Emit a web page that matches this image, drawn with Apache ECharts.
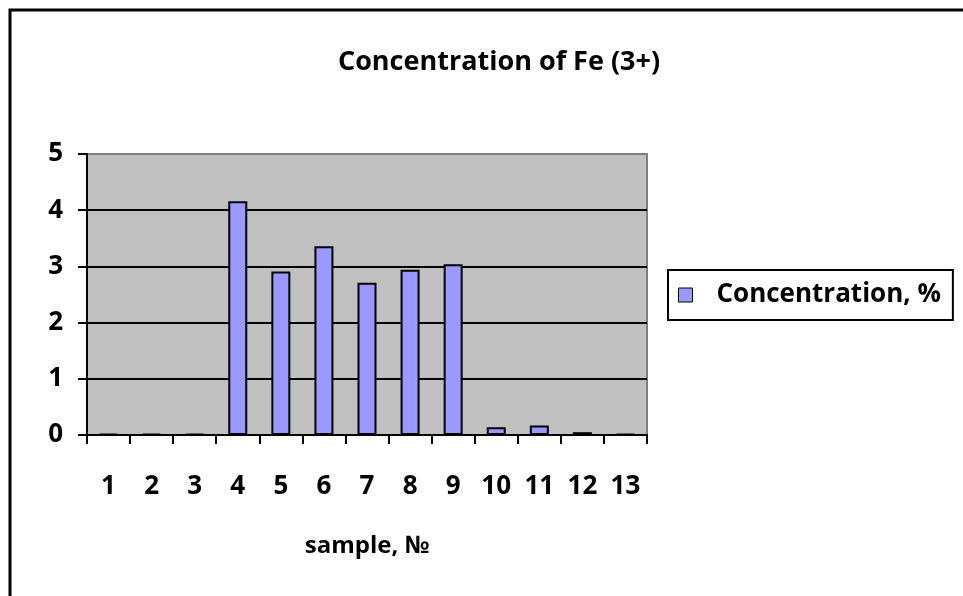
<!DOCTYPE html>
<html>
<head>
<meta charset="utf-8">
<script src="https://cdn.jsdelivr.net/npm/echarts@6/dist/echarts.min.js"></script>
<style>html,body{margin:0;padding:0;background:#fff}#c{width:963px;height:596px}</style>
</head>
<body>
<div id="c"></div>
<script>
var categories = ['1','2','3','4','5','6','7','8','9','10','11','12','13'];
var concentration = [0.02,0.02,0.02,4.16,2.91,3.36,2.71,2.94,3.04,0.14,0.17,0.05,0.02];
var yTicks = [0,1,2,3,4,5];
var chartTitle = 'Concentration of Fe (3+)';
var seriesName = 'Concentration, %';
var xName = 'sample, №';

var FONT = '"Open Sans"';
var chart = echarts.init(document.getElementById('c'));
chart.setOption({
  animation: false,
  backgroundColor: '#fff',
  title: {
    text: chartTitle,
    left: 494, top: 44, textAlign: 'center',
    textStyle: {fontFamily: FONT, fontWeight: 'bold', fontSize: 27, color: '#000'}
  },
  legend: {
    left: 668, top: 270,
    orient: 'vertical',
    borderColor: '#000', borderWidth: 2,
    padding: [12, 12, 12, 10],
    icon: 'rect', itemWidth: 14, itemHeight: 14,
    itemStyle: {borderColor: '#000', borderWidth: 1},
    textStyle: {fontFamily: FONT, fontWeight: 'bold', fontSize: 26, color: '#000', padding: [0,0,0,19]},
    data: [seriesName]
  },
  grid: {
    left: 87, top: 154, width: 560, height: 281,
    show: true, backgroundColor: '#c0c0c0', borderColor: '#808080', borderWidth: 2
  },
  xAxis: {
    type: 'category', data: categories,
    name: xName, nameLocation: 'middle', nameGap: 99,
    nameTextStyle: {fontFamily: FONT, fontWeight: 'bold', fontSize: 24, color: '#000'},
    axisLine: {lineStyle: {color: '#000', width: 2}},
    axisTick: {show: true, alignWithLabel: false, interval: 0, length: 9, lineStyle: {color: '#000', width: 2}},
    axisLabel: {margin: 39, fontFamily: FONT, fontWeight: 'bold', fontSize: 26, color: '#000'},
    splitLine: {show: false}
  },
  yAxis: {
    type: 'value', min: yTicks[0], max: yTicks[yTicks.length-1], interval: 1,
    axisLine: {show: true, lineStyle: {color: '#000', width: 2}},
    axisTick: {show: true, length: 9, lineStyle: {color: '#000', width: 2}},
    axisLabel: {margin: 24, fontFamily: FONT, fontWeight: 'bold', fontSize: 26, color: '#000'},
    splitLine: {lineStyle: {color: ['#000','#000','#000','#000','#000','#808080'], width: 2}}
  },
  series: [{
    name: seriesName, type: 'bar', data: concentration,
    barWidth: 19,
    itemStyle: {color: '#9999ff', borderColor: '#000', borderWidth: 2}
  }],
  graphic: [{
    type: 'rect', shape: {x: 10, y: 10, width: 1000, height: 700},
    style: {fill: 'none', stroke: '#000', lineWidth: 3}, silent: true
  }]
});
</script>
</body>
</html>
